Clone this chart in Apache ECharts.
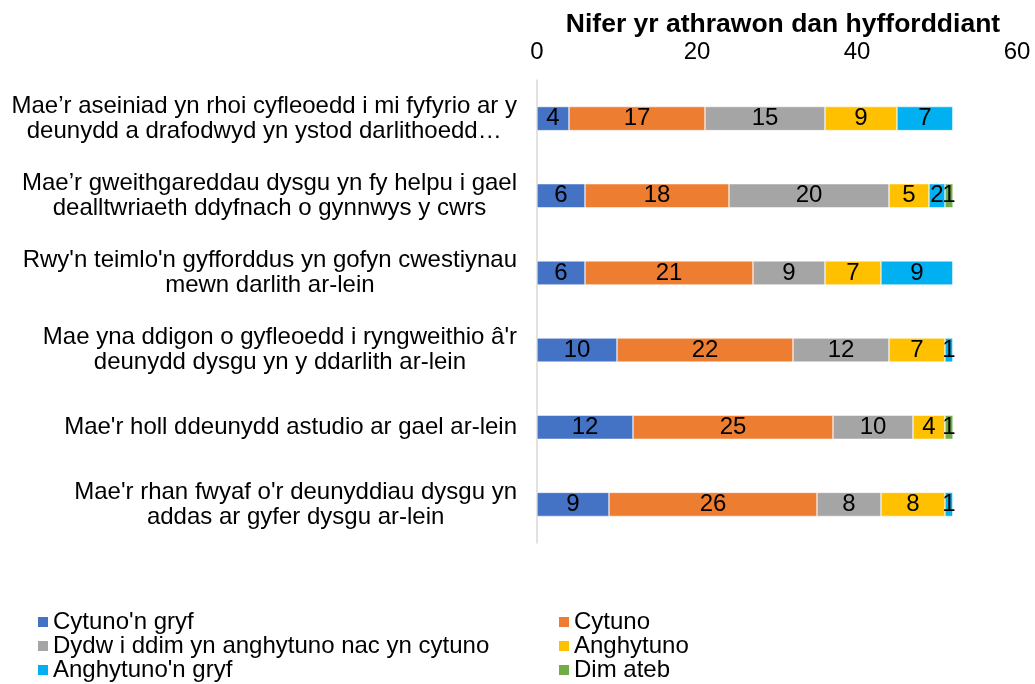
<!DOCTYPE html>
<html>
<head>
<meta charset="utf-8">
<script src="https://cdn.jsdelivr.net/npm/echarts@6/dist/echarts.min.js"></script>
<style>html,body{margin:0;padding:0;background:#fff}#c{width:1035px;height:684px}</style>
</head>
<body>
<div id="c"></div>
<script>
const categories = [
  "Mae’r aseiniad yn rhoi cyfleoedd i mi fyfyrio ar y\ndeunydd a drafodwyd yn ystod darlithoedd…",
  "Mae’r gweithgareddau dysgu yn fy helpu i gael\ndealltwriaeth ddyfnach o gynnwys y cwrs",
  "Rwy'n teimlo'n gyfforddus yn gofyn cwestiynau\nmewn darlith ar-lein",
  "Mae yna ddigon o gyfleoedd i ryngweithio â'r\ndeunydd dysgu yn y ddarlith ar-lein",
  "Mae'r holl ddeunydd astudio ar gael ar-lein",
  "Mae'r rhan fwyaf o'r deunyddiau dysgu yn\naddas ar gyfer dysgu ar-lein"
];
const seriesNames = ["Cytuno'n gryf", "Cytuno", "Dydw i ddim yn anghytuno nac yn cytuno", "Anghytuno", "Anghytuno'n gryf", "Dim ateb"];
const cytunoGryf   = [4, 6, 6, 10, 12, 9];
const cytuno       = [17, 18, 21, 22, 25, 26];
const niwtral      = [15, 20, 9, 12, 10, 8];
const anghytuno    = [9, 5, 7, 7, 4, 8];
const anghytunoGryf= [7, 2, 9, 1, 0, 1];
const dimAteb      = [0, 1, 0, 0, 1, 0];
const xTicks = [0, 20, 40, 60];
const colors = ["#4472C4", "#ED7D31", "#A5A5A5", "#FFC000", "#00B0F0", "#70AD47"];
const title = "Nifer yr athrawon dan hyfforddiant";

const values = [cytunoGryf, cytuno, niwtral, anghytuno, anghytunoGryf, dimAteb];
const chart = echarts.init(document.getElementById('c'));
const font = 'Liberation Sans, Arial, sans-serif';
const legendText = { fontSize: 24, lineHeight: 24, color: '#000', fontFamily: font, padding: [0,0,0,-1] };
chart.setOption({
  animation: false,
  color: colors,
  textStyle: { fontFamily: font },
  title: {
    text: title, left: 778, textAlign: 'center', top: 6,
    textStyle: { fontSize: 26.5, fontWeight: 'bold', color: '#000', fontFamily: font }
  },
  legend: [
    { data: [seriesNames[0], seriesNames[2], seriesNames[4]], orient: 'vertical', left: 36, top: 610, padding: 0,
      itemGap: 0, itemWidth: 12, itemHeight: 12, icon: 'rect', textStyle: legendText },
    { data: [seriesNames[1], seriesNames[3], seriesNames[5]], orient: 'vertical', left: 557, top: 610, padding: 0,
      itemGap: 0, itemWidth: 12, itemHeight: 12, icon: 'rect', textStyle: legendText }
  ],
  grid: { left: 537, right: 18, top: 80, bottom: 141, containLabel: false },
  xAxis: {
    type: 'value', position: 'top', min: xTicks[0], max: xTicks[xTicks.length-1], interval: 20,
    axisLine: { show: false }, axisTick: { show: false }, splitLine: { show: false },
    axisLabel: { fontSize: 24, color: '#000', fontFamily: font, margin: 16 }
  },
  yAxis: {
    type: 'category', data: categories, inverse: true,
    axisLine: { show: true, lineStyle: { color: '#D9D9D9', width: 1.5 } },
    axisTick: { show: false },
    axisLabel: {
      margin: 20, color: '#000', fontSize: 24, fontFamily: font, lineHeight: 25, align: 'right',
      formatter: v => v.split('\n').map(l => '{c|' + l + '}').join('\n'),
      rich: { c: { align: 'center', fontSize: 24, lineHeight: 25, color: '#000', fontFamily: font } }
    }
  },
  series: seriesNames.map((n, i) => ({
    name: n, type: 'bar', stack: 'total', barWidth: 24,
    data: values[i],
    itemStyle: { borderColor: '#fff', borderWidth: 0.5 },
    label: { show: true, position: 'inside', color: '#000', fontSize: 24, fontFamily: font,
      formatter: p => p.value > 0 ? p.value : '' }
  }))
});
</script>
</body>
</html>
